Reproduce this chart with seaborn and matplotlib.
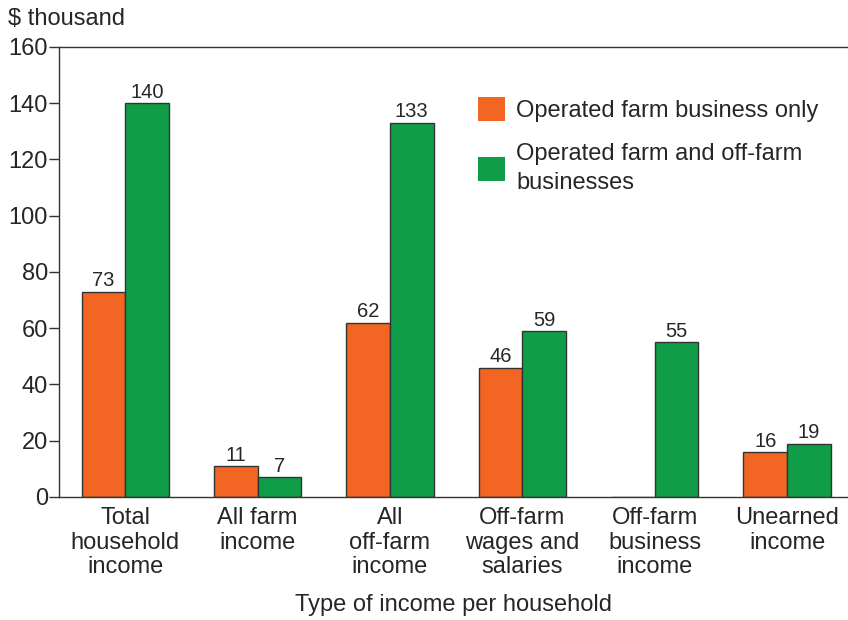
import seaborn as sns
import matplotlib.pyplot as plt
import pandas as pd

sns.set_style("white")
plt.rcParams['font.family'] = ['Liberation Sans', 'DejaVu Sans']

# ----------- Data -----------
categories = ["Total\nhousehold\nincome", "All farm\nincome", "All\noff-farm\nincome",
              "Off-farm\nwages and\nsalaries", "Off-farm\nbusiness\nincome", "Unearned\nincome"]
farm_only = [73, 11, 62, 46, 0, 16]
farm_and_offfarm = [140, 7, 133, 59, 55, 19]
series = ["Operated farm business only", "Operated farm and off-farm\nbusinesses"]
colors = ["#F26522", "#0F9D48"]

df = pd.DataFrame({
    "Category": categories * 2,
    "Value": farm_only + farm_and_offfarm,
    "Series": [series[0]] * len(categories) + [series[1]] * len(categories),
})

fig = plt.figure(figsize=(8.48, 6.2), dpi=100)
ax = fig.add_axes([0.0696, 0.1984, 0.9304, 0.726])

sns.barplot(data=df, x="Category", y="Value", hue="Series", palette=colors,
            saturation=1, width=0.66, edgecolor="#333333", linewidth=1, ax=ax)

# value labels (skip zero bars)
for cont in ax.containers:
    labels = [f"{v:.0f}" if v > 0 else "" for v in cont.datavalues]
    ax.bar_label(cont, labels=labels, padding=1, fontsize=14.5)

ax.set_ylim(0, 160)
ax.set_xlim(-0.5, 5.46)
ax.set_yticks(range(0, 161, 20))
ax.tick_params(axis="y", labelsize=17, length=7, width=1, direction="out",
               left=True, pad=1, color="#333333")
ax.tick_params(axis="x", labelsize=17, length=0, pad=7)
for lbl in ax.get_xticklabels():
    lbl.set_linespacing(1.17)

for side in ["left", "top", "bottom"]:
    ax.spines[side].set_color("#333333")
    ax.spines[side].set_linewidth(1)
ax.spines["right"].set_visible(False)

ax.set_ylabel("")
ax.set_xlabel("Type of income per household", fontsize=17, labelpad=11)
fig.text(0.009, 0.969, "$ thousand", fontsize=17, va="center", ha="left")

leg = ax.legend(loc="upper left", bbox_to_anchor=(0.531, 0.888), frameon=False,
                fontsize=17, handlelength=1.15, handleheight=1.2, handletextpad=0.47,
                labelspacing=0.88, borderpad=0, borderaxespad=0)
for h in leg.legend_handles:
    h.set_edgecolor("none")
for t in leg.get_texts():
    t.set_linespacing(1.4)

fig.savefig("out.png", dpi=100)
